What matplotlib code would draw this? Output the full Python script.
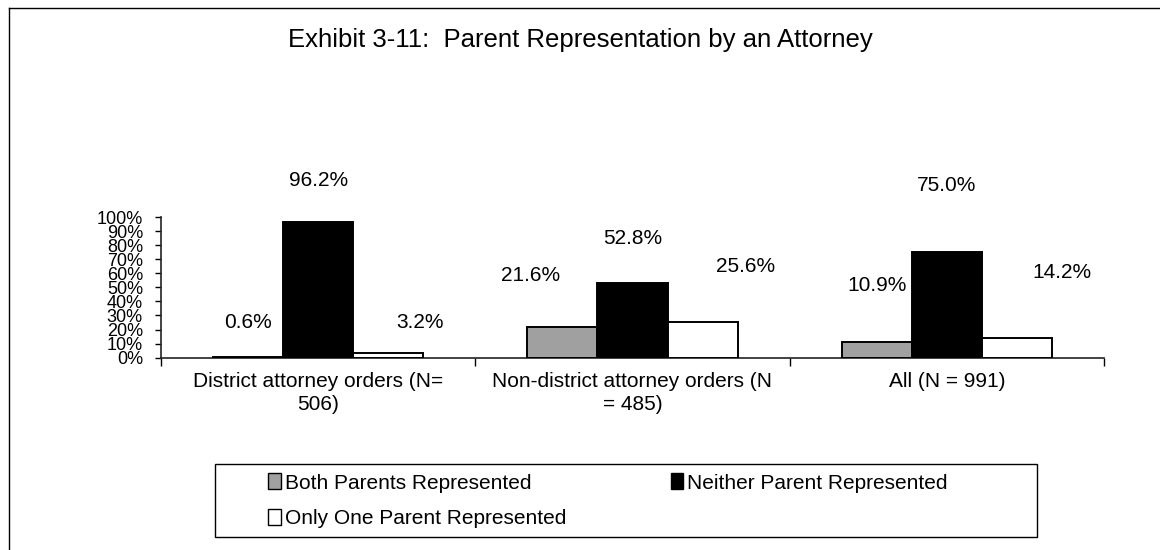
import matplotlib
matplotlib.use('Agg')
import numpy as np
import matplotlib.pyplot as plt
from matplotlib.patches import Patch, Rectangle
from matplotlib.lines import Line2D

plt.rcParams['font.family'] = ['Liberation Sans', 'DejaVu Sans']

# data
groups = ['District attorney orders (N=\n506)',
          'Non-district attorney orders (N\n= 485)',
          'All (N = 991)']
series = ['Both Parents Represented', 'Neither Parent Represented',
          'Only One Parent Represented']
both = [0.6, 21.6, 10.9]
neither = [96.2, 52.8, 75.0]
only_one = [3.2, 25.6, 14.2]
yticks = list(range(0, 101, 10))

# label placement (pixels: dx, dy above bar top) - excel put them in odd spots
label_offsets = [
    [(0, 34), (0, 42), (32, 31)],
    [(-32, 52), (0, 45), (43, 55)],
    [(0, 57), (0, 67), (45, 65)],
]
colors = ['#a0a0a0', '#000000', '#ffffff']
width = 0.223

fig = plt.figure(figsize=(11.6, 5.5), dpi=100)
W, H = 1160, 550
ax = fig.add_axes([161 / W, 1 - 357.7 / H, (1104 - 161) / W, (357.7 - 217) / H])

x = np.arange(len(groups))
values = [both, neither, only_one]
for i, vals in enumerate(values):
    xs = x + (i - 1) * width
    ax.bar(xs, vals, width, color=colors[i], edgecolor='black', linewidth=1.4, zorder=3)
    for g, (xx, v) in enumerate(zip(xs, vals)):
        dx, dy = label_offsets[g][i]
        ax.annotate(f'{v:.1f}%', xy=(xx, v), xytext=(dx, dy),
                    textcoords='offset pixels', ha='center', va='center',
                    fontsize=15)

ax.set_xlim(-0.5, 2.5)
ax.set_ylim(0, 100)
ax.set_yticks(yticks)
ax.set_yticklabels([f'{t}%' for t in yticks], fontsize=13)
ax.tick_params(axis='y', length=4, width=1, pad=9)

ax.set_xticks([-0.5, 0.5, 1.5, 2.5])
ax.set_xticklabels([])
ax.tick_params(axis='x', which='major', length=6, width=1)
ax.set_xticks(x, minor=True)
ax.set_xticklabels(groups, minor=True, fontsize=15, linespacing=1.3)
ax.tick_params(axis='x', which='minor', length=0, pad=10)

for s in ['top', 'right']:
    ax.spines[s].set_visible(False)
for s in ['left', 'bottom']:
    ax.spines[s].set_color('#222222')
    ax.spines[s].set_linewidth(1.2)

fig.text(580 / W, 1 - 40 / H, 'Exhibit 3-11:  Parent Representation by an Attorney',
         ha='center', va='center', fontsize=18.5)

# outer border (left and top only visible in the scan)
fig.add_artist(Line2D([9 / W, 9 / W], [0, 1 - 8 / H], transform=fig.transFigure,
                      color='black', lw=1))
fig.add_artist(Line2D([9 / W, 1], [1 - 8 / H, 1 - 8 / H], transform=fig.transFigure,
                      color='black', lw=1))

# legend box
fig.add_artist(Rectangle((215 / W, 1 - 537 / H), 822 / W, 73 / H, fill=False,
                         edgecolor='black', lw=1, transform=fig.transFigure))
handles = [Patch(facecolor=colors[i], edgecolor='black', label=series[i]) for i in range(3)]
order = [0, 2, 1]
fig.legend([handles[i] for i in order], [series[i] for i in order], ncol=2,
           loc='upper left', bbox_to_anchor=(258 / W, 1 - 463 / H),
           bbox_transform=fig.transFigure, frameon=False, borderpad=0,
           handlelength=0.6, handleheight=0.8, handletextpad=0.2,
           columnspacing=5.0, labelspacing=0.8, fontsize=15)

fig.savefig('out.png', dpi=100)
